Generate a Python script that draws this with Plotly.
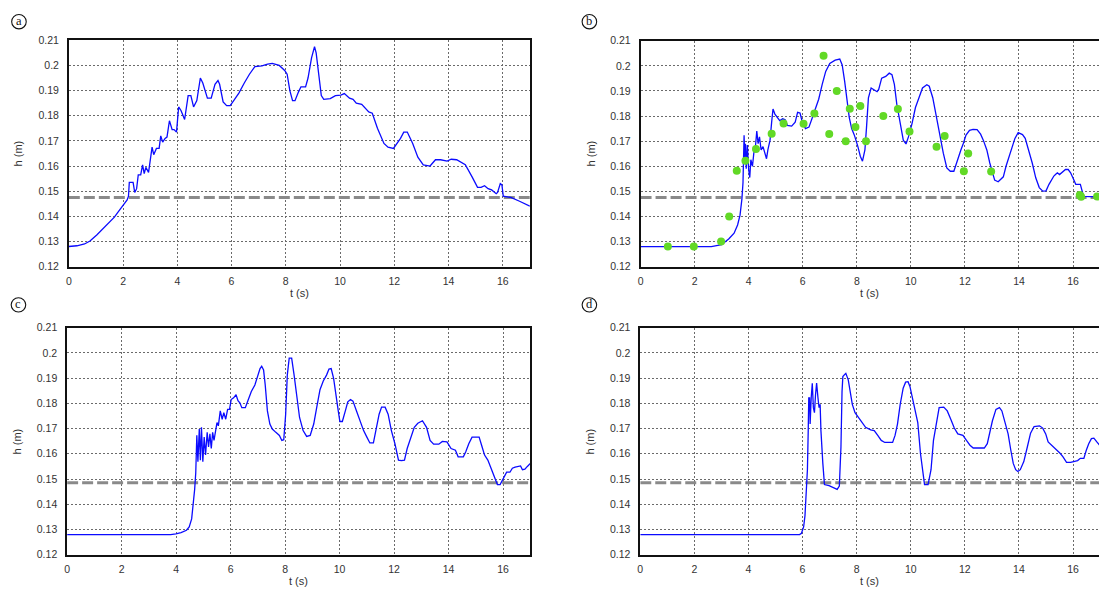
import plotly.graph_objects as go

# ---- tick labels -------------------------------------------------------
X_TICKS = [0, 2, 4, 6, 8, 10, 12, 14, 16]
Y_TICKS = [0.12, 0.13, 0.14, 0.15, 0.16, 0.17, 0.18, 0.19, 0.20, 0.21]
Y_TICK_TEXT = ["0.12", "0.13", "0.14", "0.15", "0.16", "0.17", "0.18", "0.19", "0.2", "0.21"]

# ---- panel (a): water depth h(t) ---------------------------------------
T_A = [0, 0.3, 0.58, 0.78, 1.03, 1.29, 1.5, 1.68, 1.8, 2.0, 2.15, 2.2, 2.23, 2.37, 2.43,
       2.5, 2.56, 2.65, 2.72, 2.78, 2.84, 2.94, 3.07, 3.13, 3.23, 3.33, 3.39, 3.46, 3.55,
       3.62, 3.71, 3.81, 3.88, 3.97, 4.05, 4.14, 4.27, 4.4, 4.5, 4.6, 4.72, 4.85, 4.94,
       5.11, 5.25, 5.39, 5.5, 5.56, 5.69, 5.82, 5.95, 6.08, 6.27, 6.47, 6.66, 6.86, 7.12,
       7.33, 7.5, 7.76, 7.96, 8.05, 8.15, 8.25, 8.34, 8.47, 8.56, 8.73, 8.82, 8.95, 9.06,
       9.12, 9.22, 9.31, 9.4, 9.64, 9.83, 10.03, 10.16, 10.35, 10.48, 10.6, 10.8, 11.06,
       11.19, 11.38, 11.62, 11.77, 11.97, 12.1, 12.23, 12.35, 12.48, 12.68, 12.87, 13.07,
       13.32, 13.52, 13.71, 13.95, 14.1, 14.3, 14.62, 14.88, 15.07, 15.2, 15.33, 15.46,
       15.59, 15.76, 15.81, 15.91, 15.97, 16.02, 16.3, 16.62, 17.0]
H_A = [0.128, 0.1283, 0.129, 0.1302, 0.1326, 0.1355, 0.138, 0.1397, 0.1415, 0.1445, 0.1465,
       0.148, 0.1535, 0.1535, 0.1495, 0.151, 0.1565, 0.1565, 0.1605, 0.157, 0.1595, 0.1575,
       0.1675, 0.1645, 0.167, 0.167, 0.172, 0.1695, 0.171, 0.1715, 0.178, 0.1745, 0.1745,
       0.1735, 0.1835, 0.182, 0.1785, 0.188, 0.188, 0.1835, 0.186, 0.195, 0.193, 0.187,
       0.187, 0.1925, 0.194, 0.1925, 0.1855, 0.184, 0.184, 0.186, 0.189, 0.193, 0.1965,
       0.1995, 0.1998, 0.2005, 0.2008, 0.2, 0.198, 0.1965, 0.19, 0.186, 0.186, 0.1895,
       0.1915, 0.1915, 0.195, 0.203, 0.2075, 0.205, 0.195, 0.188, 0.1865, 0.1868, 0.188,
       0.1882, 0.1888, 0.187, 0.1865, 0.185, 0.1845, 0.1815, 0.181, 0.175, 0.169, 0.1675,
       0.167, 0.169, 0.171, 0.1735, 0.1735, 0.169, 0.1635, 0.1605, 0.16, 0.1625, 0.1625,
       0.162, 0.1627, 0.1625, 0.1605, 0.1555, 0.1515, 0.1515, 0.1522, 0.151, 0.1505, 0.149,
       0.1495, 0.153, 0.1525, 0.148, 0.1475, 0.146, 0.144]

# ---- panel (b): simulated depth and measured points ---------------------
T_B = [0, 2.62, 3.0, 3.26, 3.46, 3.59, 3.68, 3.75, 3.79, 3.82, 3.83, 3.86, 3.88, 3.91, 3.95,
       4.0, 4.04, 4.08, 4.14, 4.19, 4.25, 4.3, 4.35, 4.4, 4.46, 4.53, 4.58, 4.66, 4.71,
       4.79, 4.85, 4.9, 4.97, 5.05, 5.15, 5.26, 5.35, 5.43, 5.59, 5.72, 5.81, 5.9, 5.97,
       6.1, 6.23, 6.34, 6.46, 6.59, 6.72, 6.85, 7.0, 7.2, 7.37, 7.46, 7.55, 7.63, 7.72,
       7.81, 7.91, 8.04, 8.13, 8.21, 8.3, 8.36, 8.43, 8.53, 8.63, 8.75, 8.81, 8.92, 9.07,
       9.2, 9.3, 9.39, 9.48, 9.59, 9.72, 9.82, 9.91, 10.04, 10.17, 10.3, 10.43, 10.59,
       10.68, 10.81, 10.94, 11.07, 11.2, 11.33, 11.46, 11.59, 11.72, 11.85, 11.94, 12.04,
       12.17, 12.3, 12.45, 12.58, 12.68, 12.81, 12.92, 13.01, 13.1, 13.23, 13.33, 13.42,
       13.52, 13.69, 13.85, 13.97, 14.13, 14.23, 14.36, 14.49, 14.62, 14.75, 14.88, 15.0,
       15.11, 15.2, 15.29, 15.35, 15.42, 15.5, 15.59, 15.65, 15.72, 15.82, 15.91, 16.01,
       16.1, 16.27, 16.34, 16.39, 16.62, 17.0]
H_B = [0.128, 0.128, 0.1288, 0.131, 0.1333, 0.1366, 0.1405, 0.147, 0.1535, 0.1626, 0.1724,
       0.1613, 0.169, 0.159, 0.1685, 0.1587, 0.1555, 0.1626, 0.16, 0.1652, 0.1678, 0.174,
       0.169, 0.1717, 0.1665, 0.1678, 0.166, 0.163, 0.1665, 0.1704, 0.1776, 0.1828, 0.1808,
       0.1798, 0.1782, 0.1789, 0.1785, 0.1763, 0.176, 0.1776, 0.1815, 0.1812, 0.1782, 0.175,
       0.1756, 0.1789, 0.1828, 0.1867, 0.1926, 0.1978, 0.201, 0.2023, 0.2027, 0.2004,
       0.1939, 0.1873, 0.1795, 0.175, 0.1724, 0.1678, 0.164, 0.162, 0.1665, 0.1756, 0.1873,
       0.1912, 0.1906, 0.1897, 0.1906, 0.1951, 0.1958, 0.1971, 0.1965, 0.1926, 0.1847,
       0.1782, 0.1704, 0.1689, 0.1717, 0.1769, 0.1834, 0.1873, 0.1912, 0.1925, 0.1919,
       0.1873, 0.1795, 0.1717, 0.1652, 0.1593, 0.158, 0.158, 0.1626, 0.1665, 0.1691, 0.1724,
       0.1743, 0.1747, 0.1746, 0.1728, 0.1704, 0.1665, 0.1613, 0.1574, 0.1545, 0.1538,
       0.1548, 0.1558, 0.16, 0.1659, 0.1711, 0.1734, 0.1726, 0.1711, 0.1665, 0.1613, 0.1554,
       0.1515, 0.1501, 0.1502, 0.1528, 0.1545, 0.1561, 0.1567, 0.1574, 0.1567, 0.1574, 0.158,
       0.1587, 0.1587, 0.1574, 0.155, 0.1528, 0.1528, 0.1496, 0.148, 0.1479, 0.1479]

T_B_OBS = [1.01, 1.97, 2.98, 3.28, 3.56, 3.88, 4.27, 4.85, 5.29, 6.03, 6.43, 6.77, 6.98, 7.26,
           7.59, 7.74, 7.95, 8.13, 8.34, 8.98, 9.52, 9.95, 10.95, 11.25, 11.96, 12.12, 12.97,
           16.25, 16.3, 16.89]
H_B_OBS = [0.128, 0.128, 0.130, 0.140, 0.1582, 0.1622, 0.1669, 0.173, 0.177, 0.1769, 0.181,
           0.204, 0.1729, 0.190, 0.170, 0.1829, 0.1756, 0.184, 0.170, 0.180, 0.1828, 0.1738,
           0.1678, 0.1721, 0.158, 0.1651, 0.1579, 0.1485, 0.1478, 0.1479]

# ---- panel (c) ---------------------------------------------------------
T_C = [0, 3.8, 3.99, 4.18, 4.38, 4.48, 4.57, 4.63, 4.68, 4.72, 4.75, 4.76, 4.8, 4.85, 4.89,
       4.93, 4.98, 5.03, 5.08, 5.14, 5.19, 5.24, 5.29, 5.34, 5.39, 5.43, 5.5, 5.55, 5.62,
       5.69, 5.75, 5.82, 5.89, 5.96, 6.02, 6.11, 6.2, 6.27, 6.34, 6.41, 6.54, 6.63, 6.76,
       6.89, 6.99, 7.08, 7.14, 7.21, 7.27, 7.35, 7.44, 7.53, 7.66, 7.79, 7.88, 7.95, 8.02,
       8.08, 8.15, 8.24, 8.33, 8.43, 8.53, 8.66, 8.79, 8.92, 9.05, 9.18, 9.28, 9.4, 9.52,
       9.61, 9.69, 9.78, 9.87, 9.95, 10.01, 10.1, 10.21, 10.3, 10.4, 10.49, 10.62, 10.75,
       10.88, 11.0, 11.11, 11.24, 11.33, 11.45, 11.54, 11.67, 11.78, 11.9, 12.03, 12.16,
       12.27, 12.38, 12.48, 12.61, 12.74, 12.87, 13.04, 13.19, 13.32, 13.45, 13.64, 13.77,
       13.94, 14.09, 14.25, 14.35, 14.54, 14.63, 14.74, 14.86, 15.12, 15.23, 15.32, 15.44,
       15.57, 15.7, 15.79, 15.89, 15.96, 16.05, 16.13, 16.25, 16.34, 16.44, 16.54, 16.64,
       16.71, 16.8, 16.89, 17.0]
H_C = [0.128, 0.128, 0.1283, 0.1288, 0.1297, 0.131, 0.1342, 0.1394, 0.1459, 0.1524, 0.1601,
       0.1673, 0.1569, 0.1698, 0.1575, 0.1705, 0.1569, 0.1666, 0.1595, 0.1685, 0.1627,
       0.1679, 0.1621, 0.1685, 0.1653, 0.1679, 0.1724, 0.1711, 0.177, 0.1737, 0.1763,
       0.1737, 0.1776, 0.1776, 0.1815, 0.1822, 0.1834, 0.1811, 0.1802, 0.1783, 0.1783,
       0.1809, 0.1847, 0.1873, 0.1906, 0.1938, 0.1947, 0.1932, 0.1873, 0.177, 0.1718,
       0.1698, 0.1685, 0.1673, 0.1653, 0.1656, 0.1757, 0.1912, 0.1979, 0.1979, 0.1912,
       0.1815, 0.1744, 0.1692, 0.1669, 0.1673, 0.1718, 0.1796, 0.1854, 0.1889, 0.1912,
       0.1936, 0.1938, 0.1899, 0.1822, 0.177, 0.1728, 0.1728, 0.177, 0.1806, 0.1815, 0.1809,
       0.177, 0.1731, 0.1692, 0.1666, 0.1643, 0.1643, 0.1692, 0.1757, 0.1785, 0.1785,
       0.1757, 0.1692, 0.164, 0.1575, 0.1573, 0.1575, 0.1621, 0.1666, 0.1705, 0.1721,
       0.1731, 0.1705, 0.1653, 0.1638, 0.1638, 0.1649, 0.1647, 0.1621, 0.1614, 0.1588,
       0.1588, 0.1608, 0.164, 0.1666, 0.1666, 0.1627, 0.1595, 0.1575, 0.1537, 0.1504,
       0.1478, 0.1478, 0.1491, 0.1511, 0.1527, 0.1527, 0.1543, 0.1547, 0.155, 0.1552,
       0.1537, 0.1539, 0.155, 0.1562]

# ---- panel (d) ---------------------------------------------------------
T_D = [0, 5.89, 5.96, 6.04, 6.09, 6.14, 6.18, 6.21, 6.23, 6.26, 6.28, 6.32, 6.36, 6.4, 6.44,
       6.48, 6.52, 6.57, 6.61, 6.65, 6.68, 6.75, 6.81, 6.98, 7.17, 7.28, 7.36, 7.42, 7.46,
       7.49, 7.56, 7.6, 7.69, 7.76, 7.84, 7.94, 8.07, 8.2, 8.33, 8.52, 8.65, 8.78, 8.91,
       9.04, 9.16, 9.33, 9.42, 9.51, 9.61, 9.72, 9.81, 9.9, 9.97, 10.06, 10.15, 10.26,
       10.36, 10.45, 10.51, 10.64, 10.75, 10.84, 10.94, 11.05, 11.22, 11.35, 11.48, 11.61,
       11.74, 11.93, 12.06, 12.19, 12.31, 12.54, 12.72, 12.83, 12.93, 13.02, 13.15, 13.28,
       13.37, 13.47, 13.6, 13.7, 13.79, 13.88, 13.96, 14.05, 14.18, 14.31, 14.43, 14.56,
       14.76, 14.88, 14.99, 15.08, 15.21, 15.31, 15.4, 15.53, 15.63, 15.76, 15.91, 16.02,
       16.17, 16.27, 16.4, 16.49, 16.58, 16.68, 16.77, 16.88, 17.0]
H_D = [0.128, 0.128, 0.1285, 0.131, 0.1355, 0.1433, 0.1537, 0.1692, 0.1822, 0.1822, 0.1718,
       0.1822, 0.188, 0.1783, 0.1763, 0.1834, 0.188, 0.1822, 0.1783, 0.1796, 0.1692, 0.1562,
       0.1478, 0.1474, 0.1465, 0.1459, 0.1472, 0.1627, 0.1847, 0.1906, 0.1915, 0.1919,
       0.1893, 0.1847, 0.1796, 0.1763, 0.1744, 0.1721, 0.1705, 0.1695, 0.1692, 0.1673,
       0.1653, 0.1645, 0.1645, 0.1645, 0.1673, 0.1718, 0.1796, 0.186, 0.1884, 0.1886,
       0.1867, 0.1822, 0.1783, 0.1724, 0.1601, 0.1524, 0.1478, 0.1478, 0.1537, 0.1653,
       0.1724, 0.1783, 0.1785, 0.177, 0.1737, 0.1702, 0.1679, 0.1673, 0.1653, 0.1634,
       0.1623, 0.1623, 0.1623, 0.164, 0.1686, 0.1731, 0.1776, 0.1783, 0.177, 0.1731, 0.1679,
       0.1614, 0.1562, 0.1537, 0.153, 0.1537, 0.1569, 0.1627, 0.1682, 0.1708, 0.1711,
       0.1702, 0.1679, 0.1647, 0.1634, 0.1627, 0.1614, 0.1601, 0.1588, 0.1566, 0.1566,
       0.1569, 0.1573, 0.1582, 0.1582, 0.1614, 0.164, 0.166, 0.1662, 0.1647, 0.1632]

# reference depth (dashed line) in each panel
H_REF = {"a": 0.1475, "b": 0.1475, "c": 0.1485, "d": 0.1485}
T_SPAN = [0, 17.1]

W, H = 1099, 595
BLUE = "#0b0bff"
GREEN = "#62d926"
DASH_GREY = "#8a8a8a"

# panel frames in pixels: (left, right, top, bottom, x_max)
PANELS = {
    "a": (66.0, 528.3, 35.0, 266.0, 17.0),
    "b": (639.3, 1099.0, 35.5, 266.0, 16.96),
    "c": (64.3, 528.8, 328.3, 560.0, 17.0),
    "d": (639.0, 1099.0, 328.3, 560.0, 16.96),
}
SERIES = {"a": (T_A, H_A), "b": (T_B, H_B), "c": (T_C, H_C), "d": (T_D, H_D)}
AXIS_IDS = {"a": ("x", "y"), "b": ("x2", "y2"), "c": ("x3", "y3"), "d": ("x4", "y4")}

fig = go.Figure()
layout = dict(
    width=W, height=H, margin=dict(l=0, r=0, t=0, b=0),
    paper_bgcolor="white", plot_bgcolor="white", showlegend=False,
    font=dict(family="Liberation Sans, Arial, sans-serif", size=10.5, color="#333333"),
)

annotations = []
shapes = []

for key, (left, right, top, bottom, xmax) in PANELS.items():
    xa, ya = AXIS_IDS[key]
    xname = "xaxis" + xa[1:]
    yname = "yaxis" + ya[1:]
    closed = right < W - 1
    layout[xname] = dict(
        domain=[left / W, right / W], range=[0, xmax], anchor=ya,
        tickvals=X_TICKS, ticks="", ticklabelstandoff=4,
        showgrid=True, gridcolor="#6a6a6a", griddash="2px,2px", gridwidth=1,
        zeroline=False, showline=True, linecolor="#111111", linewidth=1.6, mirror=True,
    )
    layout[yname] = dict(
        domain=[(H - bottom) / H, (H - top) / H], range=[0.12, 0.21], anchor=xa,
        tickvals=Y_TICKS, ticktext=Y_TICK_TEXT, ticks="", ticklabelstandoff=6,
        showgrid=True, gridcolor="#6a6a6a", griddash="2px,2px", gridwidth=1,
        zeroline=False, showline=True, linecolor="#111111", linewidth=1.6,
        mirror=True if closed else False,
    )

    t, h = SERIES[key]
    fig.add_trace(go.Scatter(
        x=T_SPAN, y=[H_REF[key], H_REF[key]], mode="lines", xaxis=xa, yaxis=ya,
        line=dict(color=DASH_GREY, width=3, dash="11px,4px"), cliponaxis=False,
        hoverinfo="skip",
    ))
    fig.add_trace(go.Scatter(
        x=t, y=h, mode="lines", xaxis=xa, yaxis=ya,
        line=dict(color=BLUE, width=1.3),
    ))
    if key == "b":
        fig.add_trace(go.Scatter(
            x=T_B_OBS, y=H_B_OBS, mode="markers", xaxis=xa, yaxis=ya,
            marker=dict(color=GREEN, size=8, line=dict(width=0)),
        ))

    # axis titles
    cx = (left + min(right, left + 17 * (right - left) / xmax)) / 2
    annotations.append(dict(
        text="t (s)", x=cx / W, y=(H - (bottom + 27)) / H, xref="paper", yref="paper",
        showarrow=False, font=dict(size=11, color="#333333"),
        xanchor="center", yanchor="middle",
    ))
    annotations.append(dict(
        text="h (m)", x=(left - 50) / W, y=(H - (top + bottom) / 2) / H,
        xref="paper", yref="paper", showarrow=False, textangle=-90,
        font=dict(size=11, color="#333333"), xanchor="center", yanchor="middle",
    ))

# circled panel letters
LETTER_POS = {"a": (16, 16), "b": (588, 16), "c": (15.5, 305), "d": (588, 305)}
for key, (cxp, cyp) in LETTER_POS.items():
    r = 7.3
    shapes.append(dict(
        type="circle", xref="paper", yref="paper",
        x0=(cxp - r) / W, x1=(cxp + r) / W, y0=(H - (cyp + r)) / H, y1=(H - (cyp - r)) / H,
        line=dict(color="#111111", width=1.1),
    ))
    annotations.append(dict(
        text=key, x=cxp / W, y=(H - cyp + 1) / H, xref="paper", yref="paper",
        showarrow=False, font=dict(family="Liberation Serif, serif", size=12.5, color="#111111"),
        xanchor="center", yanchor="middle",
    ))

layout["annotations"] = annotations
layout["shapes"] = shapes
fig.update_layout(**layout)
fig.write_html("out.html")
